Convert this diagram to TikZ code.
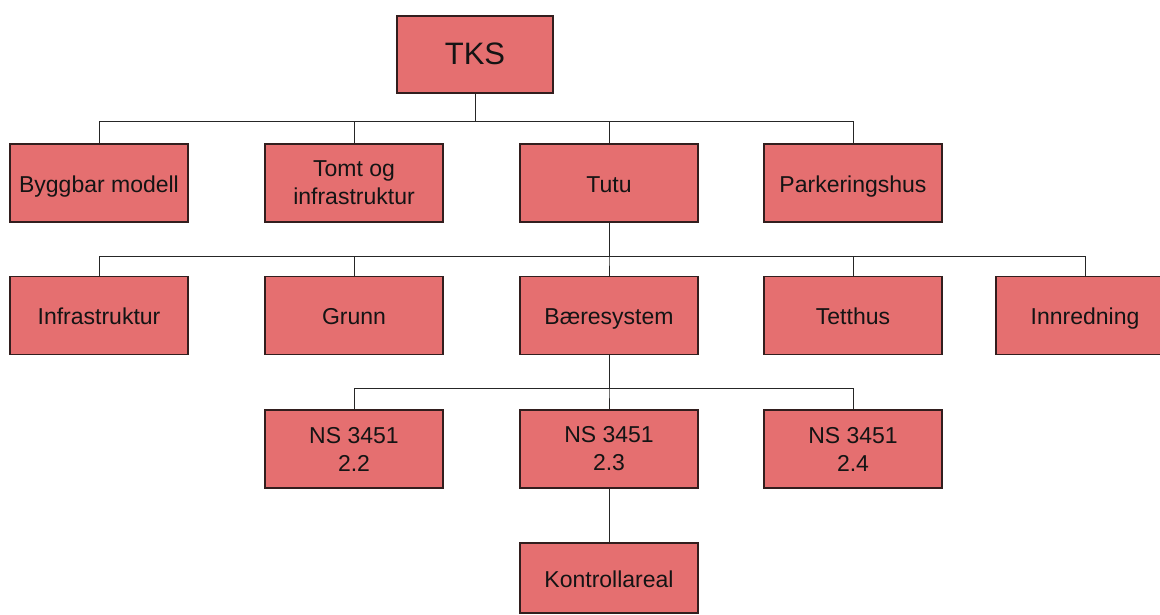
\documentclass[tikz,border=0pt]{standalone}
\usepackage{fontspec}
\setmainfont{Liberation Sans}
\definecolor{boxfill}{RGB}{229,111,112}
\definecolor{boxline}{RGB}{50,30,30}
\begin{document}
\begin{tikzpicture}[x=1pt,y=-1pt,
  orgbox/.style={draw=boxline, line width=1.2pt, fill=boxfill,
    minimum width=178pt, minimum height=78pt, inner sep=2pt, align=center,
    font=\fontsize{23}{28}\selectfont, text=black!92},
  oneline/.style={orgbox, text height=19pt, text depth=0.5pt},
  topbox/.style={orgbox, minimum width=156pt, minimum height=77pt,
    font=\fontsize{31}{36}\selectfont, text height=22pt, text depth=2pt},
  link/.style={draw=black!85, line width=1pt}]
\useasboundingbox (0,0) rectangle (1160,615);
\clip (0,0) rectangle (1160,615);

% top level
\node[topbox] (tks) at (475,54.5) {TKS};

% first level
\node[oneline] (byg)  at (99,183)  {Byggbar modell};
\node[orgbox]  (tomt) at (354,183) {Tomt og\\infrastruktur};
\node[oneline] (tutu) at (609,183) {Tutu};
\node[oneline] (park) at (853,183) {Parkeringshus};

% second level
\node[oneline] (infra) at (99,315.5)   {Infrastruktur};
\node[oneline] (grunn) at (354,315.5)  {Grunn};
\node[oneline] (baer)  at (609,315.5)  {Bæresystem};
\node[oneline] (tett)  at (853,315.5)  {Tetthus};
\node[oneline] (innr)  at (1085,315.5) {Innredning};

% third level
\node[orgbox] (ns22) at (354,449) {NS 3451\\2.2};
\node[orgbox] (ns23) at (609,449) {NS 3451\\2.3};
\node[orgbox] (ns24) at (853,449) {NS 3451\\2.4};

% fourth level
\node[oneline, minimum height=70pt] (kontr) at (609,578) {Kontrollareal};

% connectors
\foreach \c in {byg,tomt,tutu,park}
  \draw[link] (tks.south) -- (tks.south |- 0,122) -| (\c.north);
\foreach \c in {infra,grunn,baer,tett,innr}
  \draw[link] (tutu.south) -- (tutu.south |- 0,256) -| (\c.north);
\foreach \c in {ns22,ns23,ns24}
  \draw[link] (baer.south) -- (baer.south |- 0,388) -| (\c.north);
\draw[link] (ns23.south) -- (kontr.north);
\end{tikzpicture}
\end{document}
